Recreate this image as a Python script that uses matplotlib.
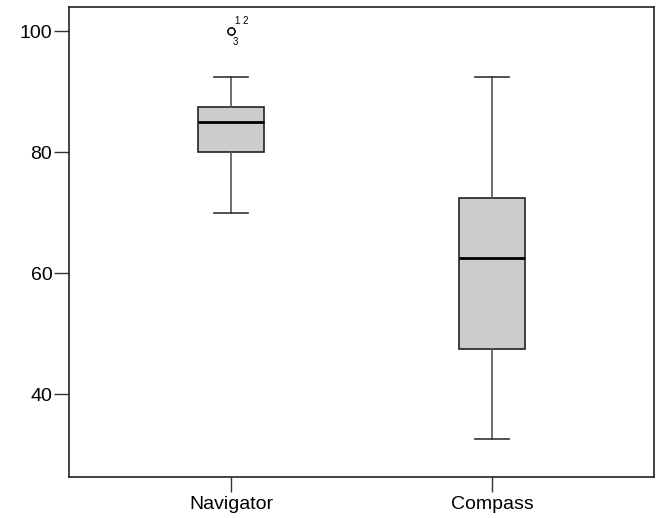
import matplotlib.pyplot as plt

# summary values
groups = ['Navigator', 'Compass']
whislo = [70, 32.5]
q1 = [80, 47.5]
med = [85, 62.5]
q3 = [87.5, 72.5]
whishi = [92.5, 92.5]
fliers = [[100, 100, 100], []]
flier_ids = [['1', '2', '3'], []]
yticks = [40, 60, 80, 100]

plt.rcParams['font.family'] = ['Liberation Sans', 'DejaVu Sans']

stats = []
for i in range(len(groups)):
    stats.append({'label': groups[i], 'whislo': whislo[i], 'q1': q1[i], 'med': med[i],
                  'q3': q3[i], 'whishi': whishi[i], 'fliers': fliers[i]})

fig = plt.figure(figsize=(6.59, 5.18), dpi=100)
ax = fig.add_axes([69 / 659, 1 - 477 / 518, 585 / 659, 470 / 518])

ax.bxp(stats, positions=[1, 2], widths=0.255, patch_artist=True,
       boxprops=dict(facecolor='#cccccc', edgecolor='#222222', linewidth=1.2),
       medianprops=dict(color='black', linewidth=2),
       whiskerprops=dict(color='#555555', linewidth=1.2),
       capprops=dict(color='#333333', linewidth=1.2),
       flierprops=dict(marker='o', markerfacecolor='white', markeredgecolor='black',
                       markersize=5, markeredgewidth=0.9))

# case labels next to the outliers
for i, ids in enumerate(flier_ids):
    if ids:
        x = i + 1
        y = fliers[i][0]
        ax.annotate(ids[0] + ' ' + ids[1], (x, y), xytext=(3, 4), textcoords='offset points',
                    fontsize=7, ha='left', va='bottom')
        ax.annotate(ids[2], (x, y), xytext=(1, -4.5), textcoords='offset points',
                    fontsize=7, ha='left', va='top')

ax.set_xlim(0.379, 2.621)
ax.set_ylim(26.3, 104)
ax.set_yticks(yticks)
ax.set_xticks([1, 2])
ax.set_xticklabels(groups)
ax.tick_params(axis='both', direction='out', length=11, width=1, labelsize=14,
               color='#333333', pad=1)
ax.tick_params(axis='x', pad=3)
for s in ax.spines.values():
    s.set_linewidth(1.2)
    s.set_color('#222222')

fig.savefig('out.png', dpi=100)
